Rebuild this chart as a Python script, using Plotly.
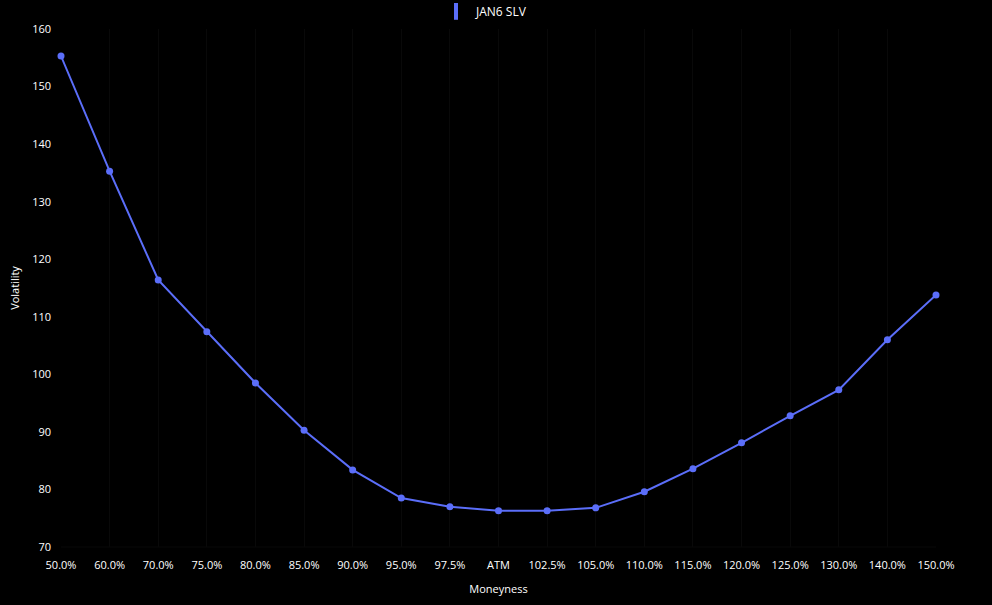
import plotly.graph_objects as go

moneyness = ["50.0%", "60.0%", "70.0%", "75.0%", "80.0%", "85.0%", "90.0%", "95.0%", "97.5%",
             "ATM", "102.5%", "105.0%", "110.0%", "115.0%", "120.0%", "125.0%", "130.0%",
             "140.0%", "150.0%"]
volatility = [155.3, 135.3, 116.4, 107.4, 98.5, 90.3, 83.4, 78.5, 77.0,
              76.3, 76.3, 76.8, 79.6, 83.6, 88.1, 92.8, 97.3, 106.0, 113.8]
series_name = "JAN6 SLV"
y_ticks = [70, 80, 90, 100, 110, 120, 130, 140, 150, 160]

color = "#5b6ef9"
font = "Open Sans, Noto Sans, sans-serif"

fig = go.Figure()
fig.add_trace(go.Scatter(
    x=moneyness, y=volatility, mode="lines+markers", name=series_name,
    line=dict(color=color, width=2), marker=dict(color=color, size=7),
    showlegend=False, cliponaxis=False,
))
fig.add_trace(go.Scatter(
    x=[None], y=[None], mode="markers", name=series_name,
    marker=dict(symbol="line-ns-open", size=12, color=color, line=dict(color=color, width=4)),
    showlegend=True,
))

fig.update_layout(
    width=992, height=605,
    paper_bgcolor="#000000", plot_bgcolor="#000000",
    margin=dict(l=61, r=56, t=29, b=58, autoexpand=False),
    font=dict(family=font, size=11, color="#ffffff"),
    legend=dict(orientation="h", x=0.484, xanchor="center", y=1.062, yanchor="top",
                font=dict(size=12, color="#ffffff"), bgcolor="rgba(0,0,0,0)"),
    xaxis=dict(
        type="category", range=[0, len(moneyness) - 1],
        title=dict(text="Moneyness", font=dict(size=11), standoff=14),
        showgrid=True, gridcolor="#090909", gridwidth=1,
        zeroline=False, showline=False, ticks="", tickfont=dict(size=11),
        ticklabelstandoff=10,
    ),
    yaxis=dict(
        range=[70, 160], tickvals=y_ticks,
        title=dict(text="Volatility", font=dict(size=11), standoff=10),
        showgrid=False, zeroline=False, showline=False, ticks="",
        tickfont=dict(size=11), ticklabelstandoff=9,
    ),
)
fig.add_shape(type="line", xref="paper", yref="paper", x0=0, x1=1, y0=0, y1=0,
              line=dict(color="#090909", width=1))

fig.write_html("out.html", config={"displayModeBar": False},
               post_script="document.body.style.margin='0';document.body.style.background='#000';")
